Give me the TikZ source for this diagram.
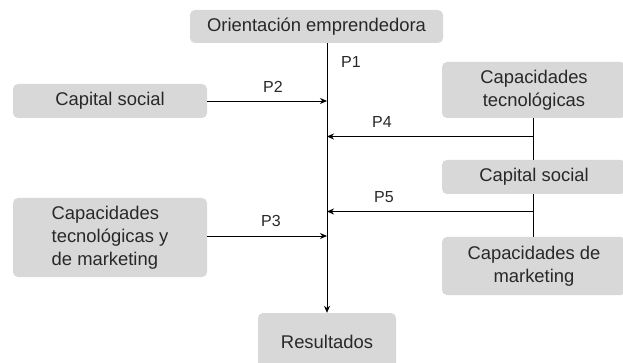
\documentclass[tikz,border=0pt]{standalone}
\usepackage{fontspec}
\setmainfont{Liberation Sans}
\usetikzlibrary{arrows.meta}
\definecolor{boxgray}{RGB}{216,216,216}
\definecolor{txt}{RGB}{40,40,40}
\tikzset{
  box/.style={fill=boxgray, rounded corners=5pt, inner sep=0pt, text=txt,
    font=\fontsize{18.4}{22.8}\selectfont},
  arr/.style={-{Stealth[length=7pt,width=6pt]}, line width=0.9pt},
  ln/.style={line width=0.9pt},
  lab/.style={text=txt, inner sep=0pt, font=\fontsize{16}{18}\selectfont}
}
\begin{document}
\begin{tikzpicture}[x=1pt,y=-1pt]
\useasboundingbox (0,0) rectangle (623,363);
% boxes
\node[box, minimum width=253pt, minimum height=33pt] (oe) at (316.5,26.5) {Orientación emprendedora};
\node[box, minimum width=194pt, minimum height=34pt] (cs1) at (110,101) {Capital social};
\node[box, minimum width=194pt, minimum height=79pt, align=left] (ctm) at (110,237.5) {Capacidades\\tecnológicas y\\de marketing};
\node[box, minimum width=184pt, minimum height=56pt, align=center] (tec) at (534,90) {Capacidades\\tecnológicas};
\node[box, minimum width=184pt, minimum height=34pt] (cs2) at (534,177) {Capital social};
\node[box, minimum width=184pt, minimum height=58pt, align=center] (mk) at (534,266) {Capacidades de\\marketing};
\node[box, minimum width=138pt, minimum height=58pt] (res) at (327,342) {Resultados};
% junction coordinates
\coordinate (j4) at (533,136.5);
\coordinate (j5) at (533,211.5);
% connectors
\draw[arr] (oe.south -| res.north) -- (res.north);
\draw[arr] (cs1.east) -- (cs1.east -| res.north);
\draw[arr] (ctm.east |- 0,236) coordinate (s3) -- (s3 -| res.north);
\draw[ln] (tec.south -| j4) -- (cs2.north -| j4);
\draw[ln] (cs2.south -| j5) -- (mk.north -| j5);
\draw[arr] (j4) -- (j4 -| res.north);
\draw[arr] (j5) -- (j5 -| res.north);
% labels
\node[lab] (p1) at (351,62) {P1};
\node[lab] (p2) at (273,87) {P2};
\node[lab] (p3) at (271,221) {P3};
\node[lab] (p4) at (382,122) {P4};
\node[lab] (p5) at (384,197) {P5};
\end{tikzpicture}
\end{document}
